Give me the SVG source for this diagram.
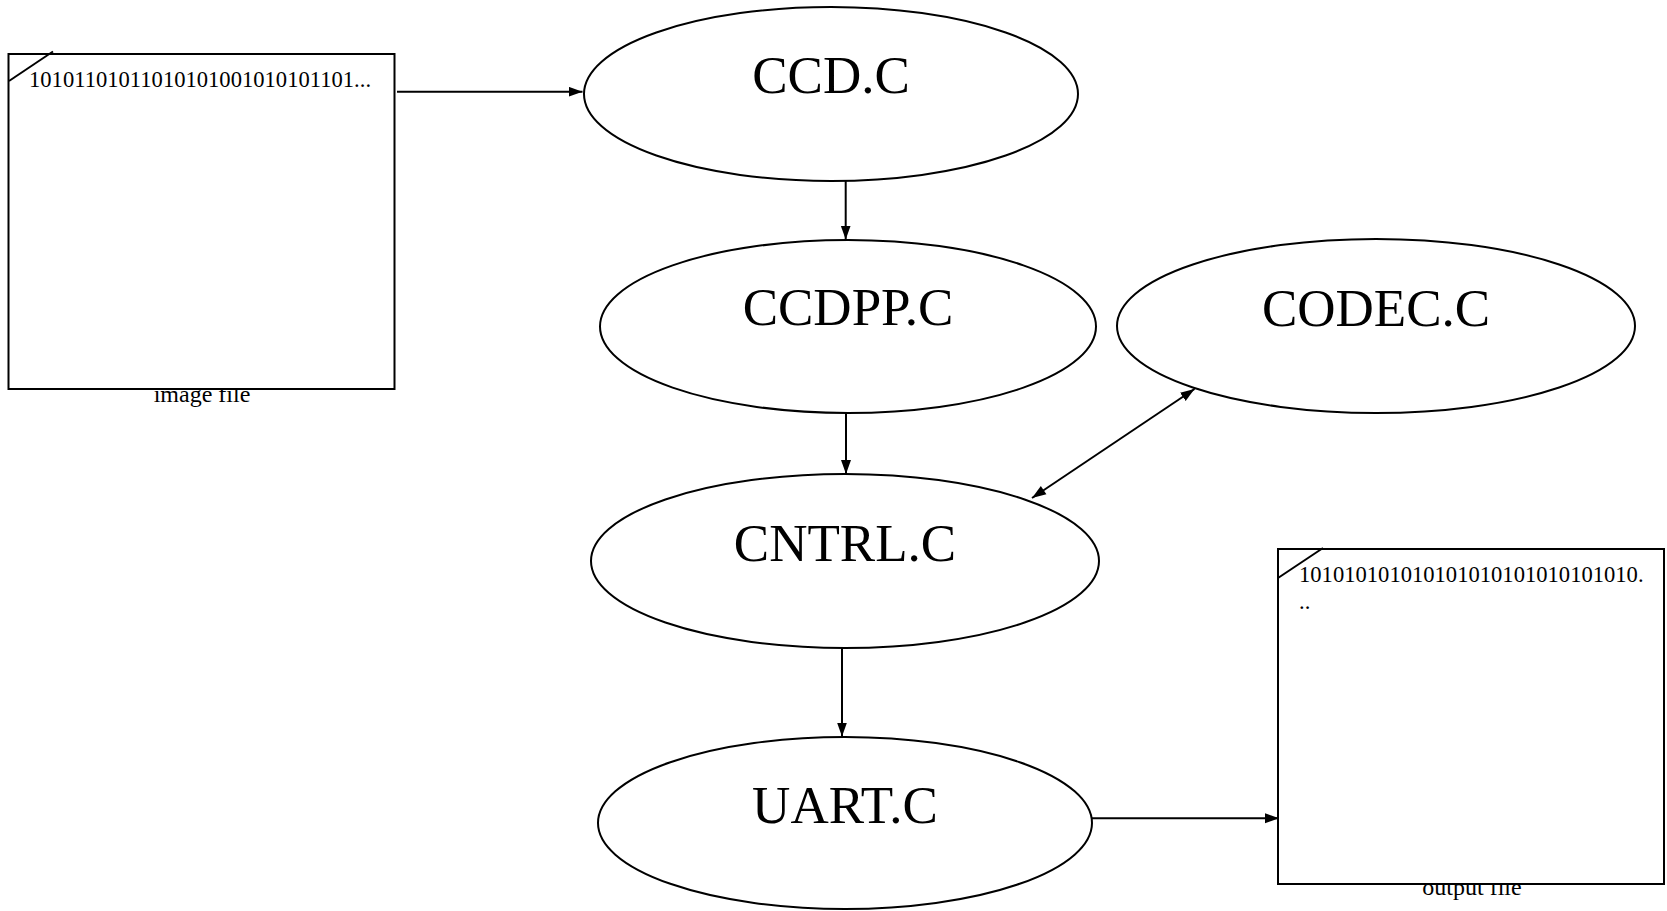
<svg xmlns="http://www.w3.org/2000/svg" width="1667" height="911" viewBox="0 0 1667 911">
  <style>
    .node { fill: #ffffff; stroke: #000000; stroke-width: 2; }
    .title { font-family: "Liberation Serif", "Times New Roman", serif; font-size: 53px; fill: #000000; text-anchor: middle; }
    .content { font-family: "Liberation Serif", "Times New Roman", serif; font-size: 22.6px; fill: #000000; }
    .caption { font-family: "Liberation Serif", "Times New Roman", serif; font-size: 24px; fill: #000000; text-anchor: middle; }
    .edge { fill: none; stroke: #000000; stroke-width: 2; }
    .corner { stroke: #000000; stroke-width: 2; }
  </style>
  <defs>
    <marker id="arrow-end" markerUnits="userSpaceOnUse" markerWidth="15" markerHeight="11" refX="14" refY="5" orient="auto">
      <path d="M0,0 L14,5 L0,10 Z" fill="#000000"/>
    </marker>
    <marker id="arrow-start" markerUnits="userSpaceOnUse" markerWidth="15" markerHeight="11" refX="0" refY="5" orient="auto">
      <path d="M14,0 L0,5 L14,10 Z" fill="#000000"/>
    </marker>
  </defs>
  <rect width="1667" height="911" fill="#ffffff"/>

  <!-- input data file -->
  <g id="image-file">
    <text class="caption" x="202" y="402">image file</text>
    <rect class="node" x="8.5" y="54" width="386" height="335"/>
    <line class="corner" x1="9" y1="81" x2="53" y2="51.5"/>
    <text class="content" x="29" y="87">10101101011010101001010101101...</text>
  </g>

  <!-- source modules -->
  <g id="ccd">
    <ellipse class="node" cx="831" cy="94" rx="247" ry="87"/>
    <text class="title" x="831" y="92.5">CCD.C</text>
  </g>
  <g id="ccdpp">
    <ellipse class="node" cx="848" cy="326.5" rx="248" ry="86.5"/>
    <text class="title" x="848" y="325">CCDPP.C</text>
  </g>
  <g id="codec">
    <ellipse class="node" cx="1376" cy="326" rx="259" ry="87"/>
    <text class="title" x="1376" y="325.5">CODEC.C</text>
  </g>
  <g id="cntrl">
    <ellipse class="node" cx="845" cy="561" rx="254" ry="87"/>
    <text class="title" x="845" y="560.5">CNTRL.C</text>
  </g>
  <g id="uart">
    <ellipse class="node" cx="845" cy="823" rx="247" ry="86"/>
    <text class="title" x="845" y="823">UART.C</text>
  </g>

  <!-- output data file -->
  <g id="output-file">
    <text class="caption" x="1472" y="895">output file</text>
    <rect class="node" x="1278" y="549" width="386" height="335"/>
    <line class="corner" x1="1278" y1="578" x2="1323" y2="548"/>
    <text class="content" x="1299" y="582">101010101010101010101010101010.</text>
    <text class="content" x="1299" y="609">..</text>
  </g>

  <!-- connectors -->
  <g id="edges">
    <line class="edge" x1="397" y1="91.7" x2="582.5" y2="91.7" marker-end="url(#arrow-end)"/>
    <line class="edge" x1="845.7" y1="181" x2="845.7" y2="239.5" marker-end="url(#arrow-end)"/>
    <line class="edge" x1="846" y1="413" x2="846" y2="474" marker-end="url(#arrow-end)"/>
    <line class="edge" x1="842" y1="648" x2="842" y2="736.5" marker-end="url(#arrow-end)"/>
    <line class="edge" x1="1032" y1="498" x2="1194.5" y2="389" marker-start="url(#arrow-start)" marker-end="url(#arrow-end)"/>
    <line class="edge" x1="1092" y1="818.3" x2="1279" y2="818.3" marker-end="url(#arrow-end)"/>
  </g>
</svg>
